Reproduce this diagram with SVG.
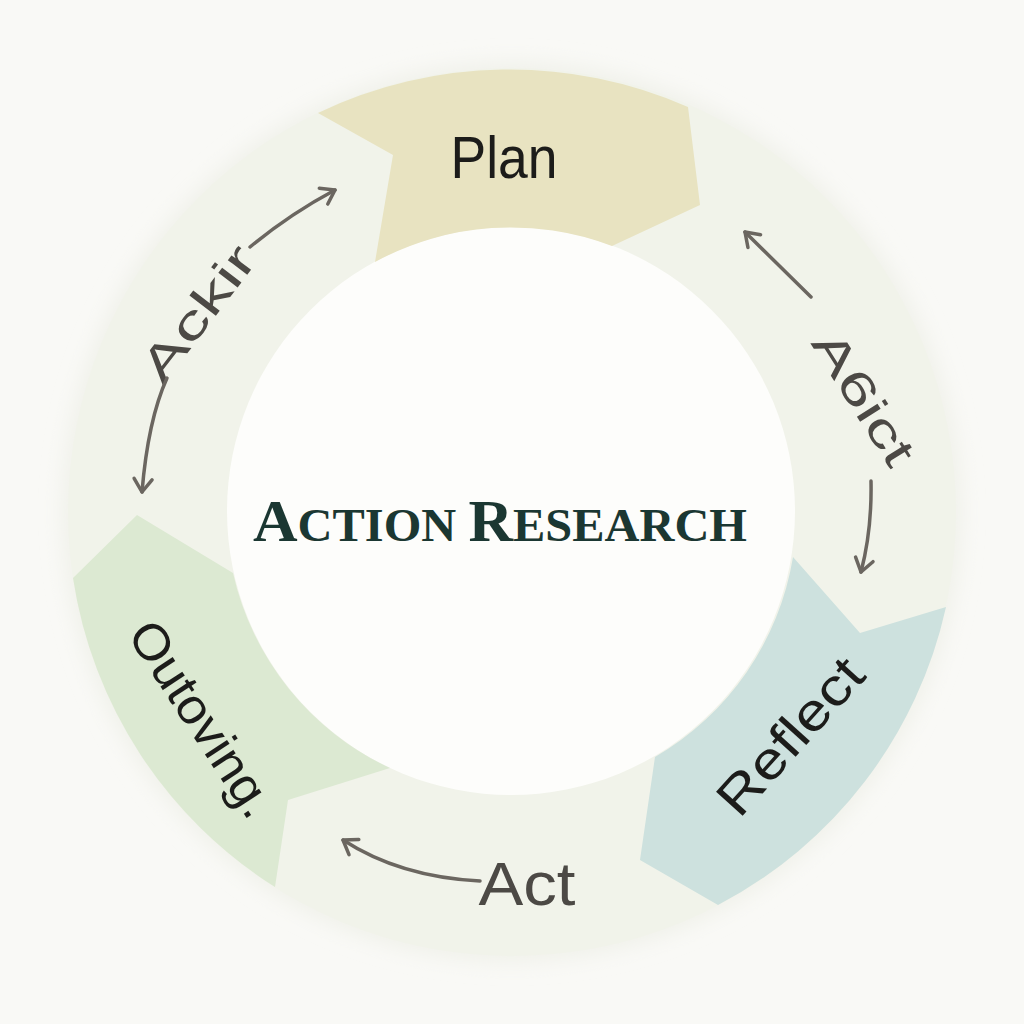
<svg xmlns="http://www.w3.org/2000/svg" width="1024" height="1024" viewBox="0 0 1024 1024">
  <style>
    .lbl { font-family: "Liberation Sans", "DejaVu Sans", sans-serif; fill: #1c1c1a; }
    .gray { fill: #4c4945; }
    .conn { fill: none; stroke: #6b6660; stroke-width: 3.5; stroke-linecap: round; marker-end: url(#arrow); }
    .title { font-family: "Liberation Serif", "DejaVu Serif", serif; font-weight: bold; fill: #1b3732; }
  </style>
  <defs>
    <marker id="arrow" markerUnits="userSpaceOnUse" markerWidth="30" markerHeight="30" refX="0" refY="0" orient="auto" overflow="visible">
      <path d="M-13,-9 L0,0 L-13,9" fill="none" stroke="#6b6660" stroke-width="3.5" stroke-linecap="round" stroke-linejoin="round"/>
    </marker>
    <filter id="soft" x="-20%" y="-20%" width="140%" height="140%">
      <feGaussianBlur stdDeviation="10"/>
    </filter>
  </defs>

  <rect width="1024" height="1024" fill="#f9f9f6"/>
  <circle cx="512" cy="512" r="450" fill="#f0f1ea" filter="url(#soft)"/>

  <g id="ring">
    <circle cx="512" cy="512" r="444" fill="#f1f3ea"/>
    <circle cx="511" cy="511" r="284" fill="#fdfdfb"/>
  </g>

  <g id="node-plan">
    <path d="M318,113 A444,444 0 0 1 688,107 L700,205 L612,246 A284,284 0 0 0 375,262 L393,155 Z" fill="#e8e3c1"/>
    <text class="lbl" x="504" y="178" font-size="60" text-anchor="middle" textLength="107" lengthAdjust="spacingAndGlyphs">Plan</text>
  </g>

  <g id="node-reflect">
    <path d="M793,557 L860,633 L946,607 A444,444 0 0 1 718,905 L640,860 L655,757 A284,284 0 0 0 793,557 Z" fill="#cde1de"/>
    <text class="lbl" transform="translate(790,736) rotate(-48)" font-size="52" text-anchor="middle" dominant-baseline="central" textLength="192" lengthAdjust="spacingAndGlyphs">Reflect</text>
  </g>

  <g id="node-outoving">
    <path d="M137,515 L233,573 A284,284 0 0 0 390,768 L288,800 L275,887 A444,444 0 0 1 73,578 Z" fill="#dce9d2"/>
    <text class="lbl" transform="translate(202,719) rotate(56.7)" font-size="50" text-anchor="middle" dominant-baseline="central" textLength="224" lengthAdjust="spacingAndGlyphs">Outoving.</text>
  </g>

  <g id="node-act">
    <text class="lbl gray" x="527" y="905" font-size="62" text-anchor="middle" textLength="97" lengthAdjust="spacingAndGlyphs">Act</text>
  </g>

  <g id="node-ackir">
    <text class="lbl gray" transform="translate(198,313) rotate(-52.6)" font-size="46" text-anchor="middle" dominant-baseline="central" textLength="158" lengthAdjust="spacingAndGlyphs">Ackir</text>
  </g>

  <g id="node-a6ict">
    <text class="lbl gray" transform="translate(864,398) rotate(57.6)" font-size="46" text-anchor="middle" dominant-baseline="central" textLength="150" lengthAdjust="spacingAndGlyphs">A6ict</text>
  </g>

  <g id="node-center">
    <text class="title" x="500" y="541" text-anchor="middle" textLength="494" lengthAdjust="spacingAndGlyphs"><tspan font-size="60">A</tspan><tspan font-size="47">CTION </tspan><tspan font-size="60">R</tspan><tspan font-size="47">ESEARCH</tspan></text>
  </g>

  <g id="connectors">
    <path class="conn" d="M250,247 Q290,214 335,190"/>
    <path class="conn" d="M167,378 Q148,420 142,492"/>
    <path class="conn" d="M811,297 L745,232"/>
    <path class="conn" d="M871,481 Q872,530 861,572"/>
    <path class="conn" d="M480,881 Q400,877 343,840"/>
  </g>
</svg>
